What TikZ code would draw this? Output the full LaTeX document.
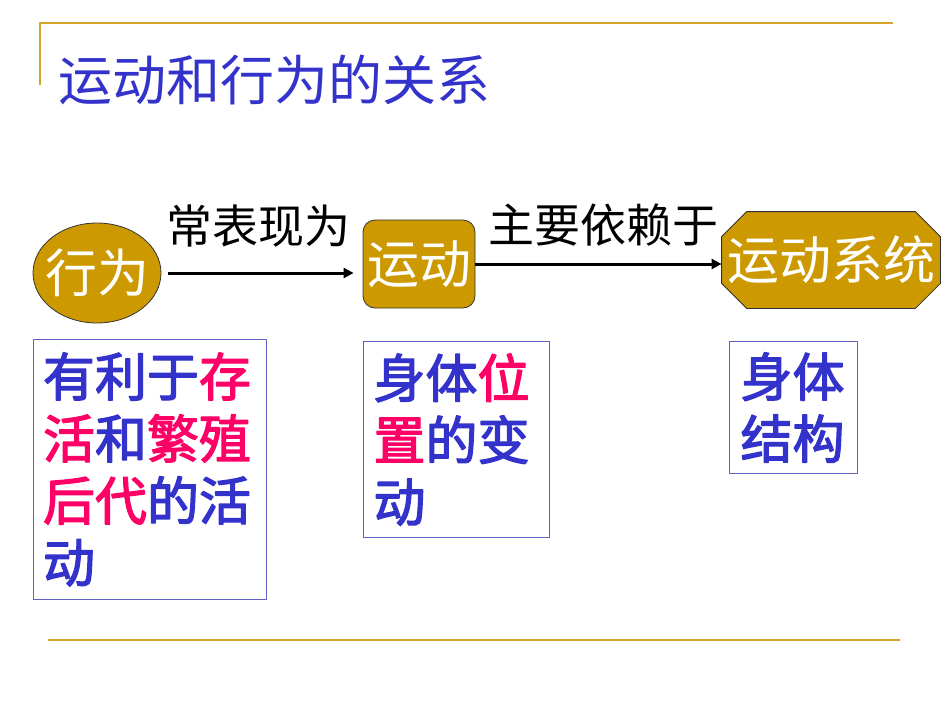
\documentclass[tikz,border=0pt]{standalone}
\usepackage{fontspec}
\newfontfamily\cjk{Noto Sans CJK SC}
\newfontfamily\cjkb[FakeBold=2.5]{Noto Sans CJK SC}
\usetikzlibrary{shapes.geometric,arrows.meta}
\definecolor{titleblue}{HTML}{3333CC}
\definecolor{keyred}{HTML}{FF0066}
\definecolor{gold}{HTML}{CC9900}
\definecolor{rulegold}{HTML}{D4A528}
\definecolor{boxline}{HTML}{5F5FC4}
\newcommand{\hl}[1]{\textcolor{keyred}{#1}}
\tikzset{
  rule/.style={draw=rulegold, line width=2pt},
  goldnode/.style={fill=gold, draw=black!80, line width=0.8pt, text=white, inner sep=0pt,
    font=\cjk\fontsize{52}{52}\selectfont},
  notebox/.style={draw=boxline, line width=1pt, anchor=north west, align=left, text=titleblue,
    font=\cjkb\fontsize{52}{62}\selectfont},
  arr/.style={->, line width=3pt},
  lbl/.style={font=\cjk\fontsize{46}{46}\selectfont, inner sep=0pt}
}
\begin{document}
\begin{tikzpicture}[x=1pt, y=-1pt, >={Triangle[length=10pt,width=10pt]}, line join=round]
\useasboundingbox (0,0) rectangle (950,713);
\path
(40,23)coordinate(TL)
(893,23)coordinate(TR)
(40,85)coordinate(LB)
(48,640)coordinate(BL)
(900,640)coordinate(BR)
;
\draw[rule] (LB)--(TL)--(TR);
\draw[rule] (BL)--(BR);
\node[anchor=west, inner sep=0pt, text=titleblue, font=\cjk\fontsize{54}{54}\selectfont] (title) at (58,80) {运动和行为的关系};
% the three stages
\node[goldnode, ellipse, inner xsep=-8pt, minimum width=128, minimum height=100] (xingwei) at (97,273) {行为};
\node[goldnode, rounded corners=12pt, minimum width=112, minimum height=88] (yundong) at (419,264) {运动};
\node[goldnode, draw=none, fill=none, minimum width=218, minimum height=96] (xitong) at (831,260) {};
\filldraw[fill=gold, draw=black!80, line width=0.8pt]
  ([xshift=25pt]xitong.north west) -- ([xshift=-25pt]xitong.north east)
  -- ([yshift=-25pt]xitong.north east) -- ([yshift=25pt]xitong.south east)
  -- ([xshift=-25pt]xitong.south east) -- ([xshift=25pt]xitong.south west)
  -- ([yshift=25pt]xitong.south west) -- ([yshift=-25pt]xitong.north west) -- cycle;
\node[goldnode, draw=none, fill=none] at (xitong.center) {运动系统};
\draw[arr, shorten <=7pt, shorten >=9pt] (xingwei.east) -- (xingwei.east -| yundong.west);
\draw[arr] (yundong.east) -- (yundong.east -| xitong.west);
\node[lbl] (l1) at (258,226) {常表现为};
\node[lbl] (l2) at (603,225) {主要依赖于};
% notes under each stage
\node[notebox, text width=214, inner xsep=9.5pt, inner ysep=13pt] (youli) at (33,339)
  {有利于\hl{存}\\\hl{活}和\hl{繁殖}\\\hl{后代}的活\\动};
\node[notebox, text width=166, inner xsep=10pt, inner ysep=12pt] (weizhi) at (363,341)
  {身体\hl{位}\\\hl{置}的变\\动};
\node[notebox, text width=106, inner xsep=11pt, inner ysep=11pt] (jiegou) at (729,341)
  {身体\\结构};
\end{tikzpicture}
\end{document}
